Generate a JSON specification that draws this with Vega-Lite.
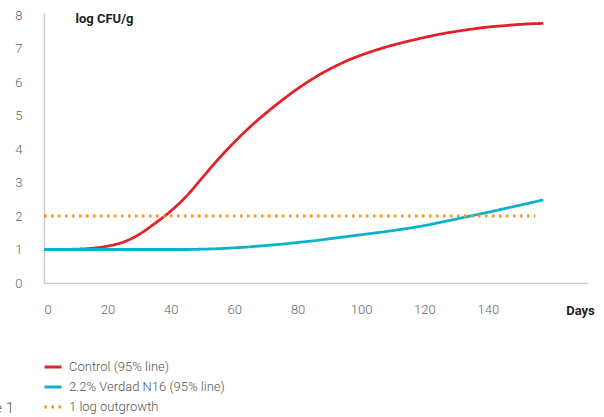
{
  "$schema": "https://vega.github.io/schema/vega-lite/v6.json",
  "width": 544,
  "height": 270,
  "autosize": {"type": "none"},
  "padding": {"left": 44, "top": 13, "right": 16, "bottom": 134},
  "background": "white",
  "config": {
    "view": {"stroke": null},
    "font": "Roboto"
  },
  "title": {
    "text": "Figure 1",
    "orient": "bottom",
    "anchor": "start",
    "frame": "group",
    "align": "right",
    "baseline": "middle",
    "dx": -30,
    "offset": -6,
    "font": "Roboto",
    "fontSize": 15,
    "fontWeight": 300,
    "color": "#555555"
  },
  "data": {
    "values": [
      {"series": "Control (95% line)", "day": 0, "v": 1.0},
      {"series": "Control (95% line)", "day": 5, "v": 1.0},
      {"series": "Control (95% line)", "day": 10, "v": 1.01},
      {"series": "Control (95% line)", "day": 15, "v": 1.035},
      {"series": "Control (95% line)", "day": 20, "v": 1.1},
      {"series": "Control (95% line)", "day": 25, "v": 1.22},
      {"series": "Control (95% line)", "day": 30, "v": 1.45},
      {"series": "Control (95% line)", "day": 35, "v": 1.78},
      {"series": "Control (95% line)", "day": 40, "v": 2.15},
      {"series": "Control (95% line)", "day": 45, "v": 2.6},
      {"series": "Control (95% line)", "day": 50, "v": 3.15},
      {"series": "Control (95% line)", "day": 55, "v": 3.7},
      {"series": "Control (95% line)", "day": 60, "v": 4.2},
      {"series": "Control (95% line)", "day": 65, "v": 4.66},
      {"series": "Control (95% line)", "day": 70, "v": 5.07},
      {"series": "Control (95% line)", "day": 75, "v": 5.45},
      {"series": "Control (95% line)", "day": 80, "v": 5.8},
      {"series": "Control (95% line)", "day": 85, "v": 6.11},
      {"series": "Control (95% line)", "day": 90, "v": 6.38},
      {"series": "Control (95% line)", "day": 95, "v": 6.61},
      {"series": "Control (95% line)", "day": 100, "v": 6.8},
      {"series": "Control (95% line)", "day": 105, "v": 6.96},
      {"series": "Control (95% line)", "day": 110, "v": 7.1},
      {"series": "Control (95% line)", "day": 115, "v": 7.22},
      {"series": "Control (95% line)", "day": 120, "v": 7.33},
      {"series": "Control (95% line)", "day": 125, "v": 7.43},
      {"series": "Control (95% line)", "day": 130, "v": 7.51},
      {"series": "Control (95% line)", "day": 135, "v": 7.58},
      {"series": "Control (95% line)", "day": 140, "v": 7.64},
      {"series": "Control (95% line)", "day": 145, "v": 7.68},
      {"series": "Control (95% line)", "day": 150, "v": 7.72},
      {"series": "Control (95% line)", "day": 157.5, "v": 7.75},
      {"series": "2.2% Verdad N16 (95% line)", "day": 0, "v": 1.0},
      {"series": "2.2% Verdad N16 (95% line)", "day": 20, "v": 1.0},
      {"series": "2.2% Verdad N16 (95% line)", "day": 45, "v": 1.0},
      {"series": "2.2% Verdad N16 (95% line)", "day": 50, "v": 1.01},
      {"series": "2.2% Verdad N16 (95% line)", "day": 55, "v": 1.025},
      {"series": "2.2% Verdad N16 (95% line)", "day": 60, "v": 1.05},
      {"series": "2.2% Verdad N16 (95% line)", "day": 65, "v": 1.08},
      {"series": "2.2% Verdad N16 (95% line)", "day": 70, "v": 1.12},
      {"series": "2.2% Verdad N16 (95% line)", "day": 75, "v": 1.16},
      {"series": "2.2% Verdad N16 (95% line)", "day": 80, "v": 1.21},
      {"series": "2.2% Verdad N16 (95% line)", "day": 85, "v": 1.26},
      {"series": "2.2% Verdad N16 (95% line)", "day": 90, "v": 1.32},
      {"series": "2.2% Verdad N16 (95% line)", "day": 95, "v": 1.38},
      {"series": "2.2% Verdad N16 (95% line)", "day": 100, "v": 1.44},
      {"series": "2.2% Verdad N16 (95% line)", "day": 105, "v": 1.5},
      {"series": "2.2% Verdad N16 (95% line)", "day": 110, "v": 1.565},
      {"series": "2.2% Verdad N16 (95% line)", "day": 115, "v": 1.635},
      {"series": "2.2% Verdad N16 (95% line)", "day": 120, "v": 1.715},
      {"series": "2.2% Verdad N16 (95% line)", "day": 125, "v": 1.81},
      {"series": "2.2% Verdad N16 (95% line)", "day": 130, "v": 1.91},
      {"series": "2.2% Verdad N16 (95% line)", "day": 135, "v": 2.01},
      {"series": "2.2% Verdad N16 (95% line)", "day": 140, "v": 2.11},
      {"series": "2.2% Verdad N16 (95% line)", "day": 145, "v": 2.215},
      {"series": "2.2% Verdad N16 (95% line)", "day": 150, "v": 2.32},
      {"series": "2.2% Verdad N16 (95% line)", "day": 157.5, "v": 2.48},
      {"series": "1 log outgrowth", "day": 0, "v": 2.0},
      {"series": "1 log outgrowth", "day": 155, "v": 2.0}
    ]
  },
  "mark": {"type": "line", "interpolate": "monotone", "strokeWidth": 2.8, "clip": false},
  "encoding": {
    "x": {
      "field": "day",
      "type": "quantitative",
      "scale": {"domain": [0, 171.6], "nice": false, "zero": false},
      "axis": {
        "values": [0, 20, 40, 60, 80, 100, 120, 140],
        "title": "Days",
        "titleX": 536,
        "titleY": 27,
        "titleAlign": "center",
        "titleBaseline": "middle",
        "titleFont": "Roboto",
        "titleFontSize": 13,
        "titleFontWeight": "bold",
        "titleColor": "#222222",
        "ticks": false,
        "grid": false,
        "domainColor": "#cccccc",
        "domainWidth": 1.5,
        "labelPadding": 20,
        "labelFont": "Roboto",
        "labelFontSize": 13,
        "labelFontWeight": 300,
        "labelColor": "#666666"
      }
    },
    "y": {
      "field": "v",
      "type": "quantitative",
      "scale": {"domain": [0, 8.06], "nice": false},
      "axis": {
        "values": [0, 1, 2, 3, 4, 5, 6, 7, 8],
        "title": "log CFU/g",
        "titleAngle": 0,
        "titleX": 31,
        "titleY": 5,
        "titleAlign": "left",
        "titleBaseline": "middle",
        "titleFont": "Roboto",
        "titleFontSize": 13,
        "titleFontWeight": "bold",
        "titleColor": "#222222",
        "ticks": false,
        "grid": false,
        "domainColor": "#cccccc",
        "domainWidth": 1.5,
        "labelPadding": 22,
        "labelFont": "Roboto",
        "labelFontSize": 13,
        "labelFontWeight": 300,
        "labelColor": "#666666"
      }
    },
    "color": {
      "field": "series",
      "type": "nominal",
      "title": null,
      "scale": {
        "domain": ["Control (95% line)", "2.2% Verdad N16 (95% line)", "1 log outgrowth"],
        "range": ["#e2212b", "#0cb1cc", "#f7901e"]
      },
      "legend": {
        "orient": "none",
        "legendX": -1,
        "legendY": 344,
        "symbolType": "stroke",
        "symbolSize": 289,
        "symbolStrokeWidth": 2.8,
        "rowPadding": 3,
        "labelFont": "Roboto",
        "labelFontSize": 13,
        "labelFontWeight": 300,
        "labelColor": "#555555",
        "labelOffset": 6
      }
    },
    "strokeDash": {
      "field": "series",
      "type": "nominal",
      "title": null,
      "scale": {
        "domain": ["Control (95% line)", "2.2% Verdad N16 (95% line)", "1 log outgrowth"],
        "range": [[1, 0], [1, 0], [2.5, 4.5]]
      }
    }
  }
}
